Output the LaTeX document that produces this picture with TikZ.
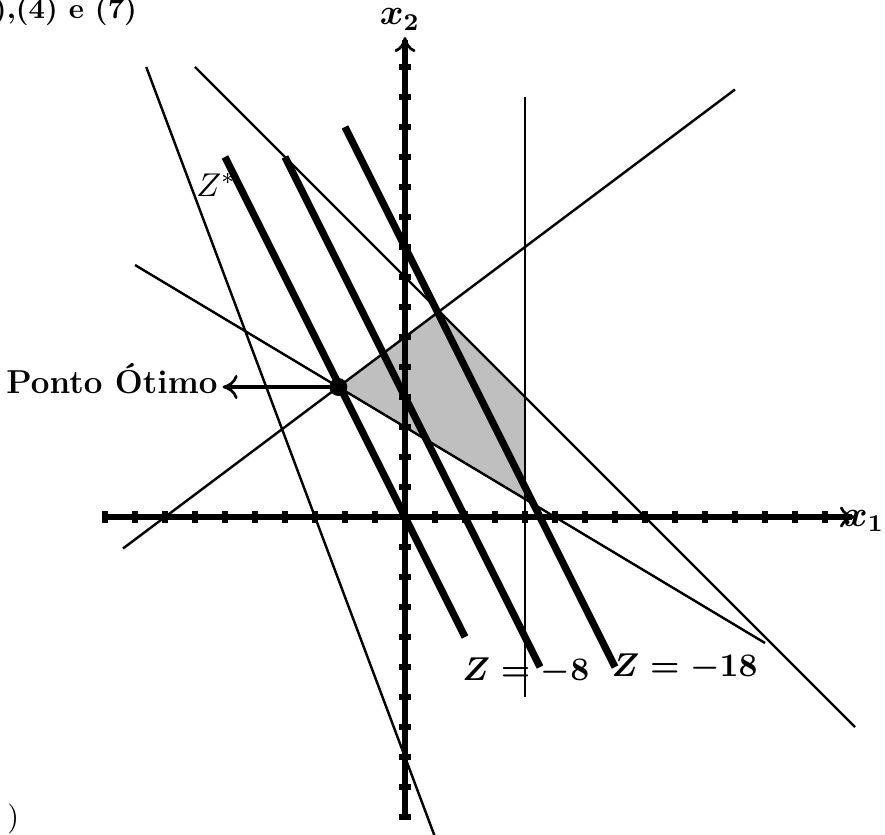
\documentclass[tikz,border=0pt]{standalone}
\usepackage{amsmath,bm}
\usetikzlibrary{arrows.meta}
\begin{document}
\begin{tikzpicture}[x=0.35cm,y=0.35cm,
  thinline/.style={line width=0.8pt},
  zline/.style={line width=2.4pt},
  axisline/.style={line width=2.2pt},
  tickmark/.style={line width=2pt},
  axtip/.style={-{To[length=5pt,width=7pt,line width=0.9pt]}},
  lbl/.style={inner sep=0pt, font=\fontsize{10.6}{12}\selectfont\boldmath}]
\clip (-13.5,-10.567) rectangle (16,17.233);
% feasible region
\coordinate (opt) at (-2.2222,4.3333);
\coordinate (top) at (1.142857,6.857143);
\coordinate (r1) at (4,4);
\coordinate (r2) at (4,0.6);
\fill[black!25] (opt) -- (top) -- (r1) -- (r2) -- cycle;
% constraint lines
\coordinate (a1) at (4,14);      \coordinate (a2) at (4,-6);
\coordinate (b1) at (-9.4,-1.05); \coordinate (b2) at (11,14.25);
\coordinate (c1) at (-9,8.4);    \coordinate (c2) at (12,-4.2);
\coordinate (d1) at (-7,15);     \coordinate (d2) at (15,-7);
\coordinate (e1) at (-8.625,15); \coordinate (e2) at (1.125,-11);
\draw[thinline] (a1) -- (a2);
\draw[thinline] (b1) -- (b2);
\draw[thinline] (c1) -- (c2);
\draw[thinline] (d1) -- (d2);
\draw[thinline] (e1) -- (e2);
% axes
\coordinate (xs) at (-10.1,0); \coordinate (xe) at (15,0);
\coordinate (ys) at (0,-10.1); \coordinate (ye) at (0,16);
\draw[axisline,axtip] (xs) -- (xe);
\draw[axisline,axtip] (ys) -- (ye);
\foreach \i in {-10,...,14} \draw[tickmark] (\i,-0.19) -- (\i,0.19);
\foreach \j in {-10,...,15} \draw[tickmark] (-0.19,\j) -- (0.19,\j);
% objective lines
\coordinate (z0a) at (-6,12); \coordinate (z0b) at (2,-4);
\coordinate (z1a) at (-4,12); \coordinate (z1b) at (4.5,-5);
\coordinate (z2a) at (-2,13); \coordinate (z2b) at (7,-5);
\draw[zline] (z0a) -- (z0b);
\draw[zline] (z1a) -- (z1b);
\draw[zline] (z2a) -- (z2b);
% optimum
\fill (opt) circle (0.3);
\node[anchor=base east, inner sep=0pt, font=\fontsize{11}{13}\selectfont\bfseries] (po) at (-6.23,4.13) {Ponto Ótimo};
\draw[line width=1.3pt,-{To[length=5pt,width=8pt,line width=0.9pt]}] (opt) -- ([xshift=1.5pt]po.east |- opt);
% labels
\node[anchor=base, inner sep=0pt, font=\fontsize{11}{13}\selectfont] (zs) at (-6.3,10.67) {$Z^*$};
\node[anchor=base, lbl] (z8) at (4.03,-5.45) {$Z = -8$};
\node[anchor=base, lbl] (z18) at (9.32,-5.3) {$Z = -18$};
\node[anchor=base, inner sep=0pt, font=\fontsize{12}{14}\selectfont] (x1) at (15.3,-0.3) {$\bm{x_1}$};
\node[anchor=base, inner sep=0pt, font=\fontsize{12}{14}\selectfont] (x2) at (-0.17,16.4) {$\bm{x_2}$};
\node[anchor=base west, inner sep=0pt, font=\fontsize{9.5}{11}\selectfont\bfseries] (t1) at (-13.72,16.6) {),(4) e (7)};
\node[anchor=base west, inner sep=0pt, font=\fontsize{10}{12}\selectfont] (t2) at (-13.27,-10.3) {)};
\end{tikzpicture}
\end{document}
